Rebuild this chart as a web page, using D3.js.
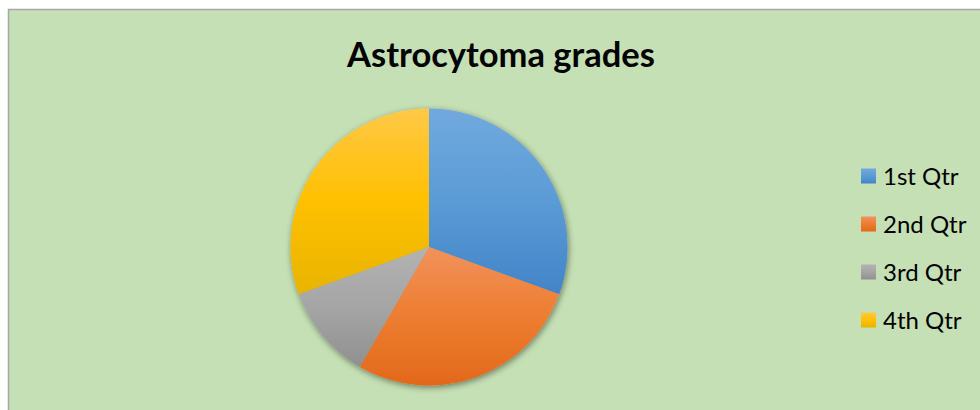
<!DOCTYPE html>
<html>
<head>
<meta charset="utf-8">
<script src="https://cdn.jsdelivr.net/npm/d3@7"></script>
<style>
  html, body { margin: 0; padding: 0; background: #fff; }
  svg { display: block; }
</style>
</head>
<body>
<svg id="chart" width="980" height="410"></svg>
<script>
// Chart data
var title = "Astrocytoma grades";
var categories = ["1st Qtr", "2nd Qtr", "3rd Qtr", "4th Qtr"];
var values = [11, 10, 4, 11];
// base, light top, dark bottom
var colors = [
    ["#5B9BD5", "#71A9DE", "#4284C8"],
    ["#ED7D31", "#F1925C", "#E2691B"],
    ["#A5A5A5", "#B3B3B3", "#909090"],
    ["#FFC000", "#FFC847", "#E8B400"]
];

var svg = d3.select("#chart");
var width = 980, height = 410;

// Chart area background and border
svg.append("rect")
    .attr("x", 8.5)
    .attr("y", 9.5)
    .attr("width", width)
    .attr("height", height)
    .attr("fill", "#C5E0B4")
    .attr("stroke", "#A6A6A6")
    .attr("stroke-width", 1.5);

var defs = svg.append("defs");

// Vertical gradient for each slice (light on top, darker at bottom)
colors.forEach(function (c, i) {
    var g = defs.append("linearGradient")
        .attr("id", "grad" + i)
        .attr("x1", 0).attr("y1", 0)
        .attr("x2", 0).attr("y2", 1);
    g.append("stop").attr("offset", "0%").attr("stop-color", c[1]);
    g.append("stop").attr("offset", "50%").attr("stop-color", c[0]);
    g.append("stop").attr("offset", "100%").attr("stop-color", c[2]);
});

var shadow = defs.append("filter")
    .attr("id", "shadow")
    .attr("x", "-10%").attr("y", "-10%")
    .attr("width", "120%").attr("height", "120%");
shadow.append("feDropShadow")
    .attr("dx", 1)
    .attr("dy", 2)
    .attr("stdDeviation", 3)
    .attr("flood-color", "#000")
    .attr("flood-opacity", 0.45);

// Title
svg.append("text")
    .attr("x", 501)
    .attr("y", 67)
    .attr("text-anchor", "middle")
    .attr("font-family", "Lato, 'Open Sans', sans-serif")
    .attr("font-weight", "bold")
    .attr("font-size", 34.5)
    .attr("fill", "#000")
    .text(title);

// Pie
var cx = 429, cy = 247, radius = 138.5;

var pie = d3.pie().sort(null).value(function (d) { return d; });
var arc = d3.arc().innerRadius(0).outerRadius(radius);

var pieGroup = svg.append("g")
    .attr("transform", "translate(" + cx + "," + cy + ")")
    .attr("filter", "url(#shadow)");

pieGroup.selectAll("path")
    .data(pie(values))
    .enter()
  .append("path")
    .attr("d", arc)
    .attr("fill", function (d, i) { return "url(#grad" + i + ")"; });

// Legend
var legendY = d3.scalePoint()
    .domain(categories)
    .range([176, 320]);

var legend = svg.append("g");

var item = legend.selectAll("g")
    .data(categories)
    .enter()
  .append("g")
    .attr("transform", function (d) { return "translate(861," + legendY(d) + ")"; });

item.append("rect")
    .attr("x", 0)
    .attr("y", -7.5)
    .attr("width", 15)
    .attr("height", 15)
    .attr("fill", function (d, i) { return "url(#grad" + i + ")"; });

item.append("text")
    .attr("x", 22)
    .attr("y", 8.5)
    .attr("font-family", "Lato, 'Open Sans', sans-serif")
    .attr("font-size", 24)
    .attr("fill", "#000")
    .text(function (d) { return d; });
</script>
</body>
</html>
